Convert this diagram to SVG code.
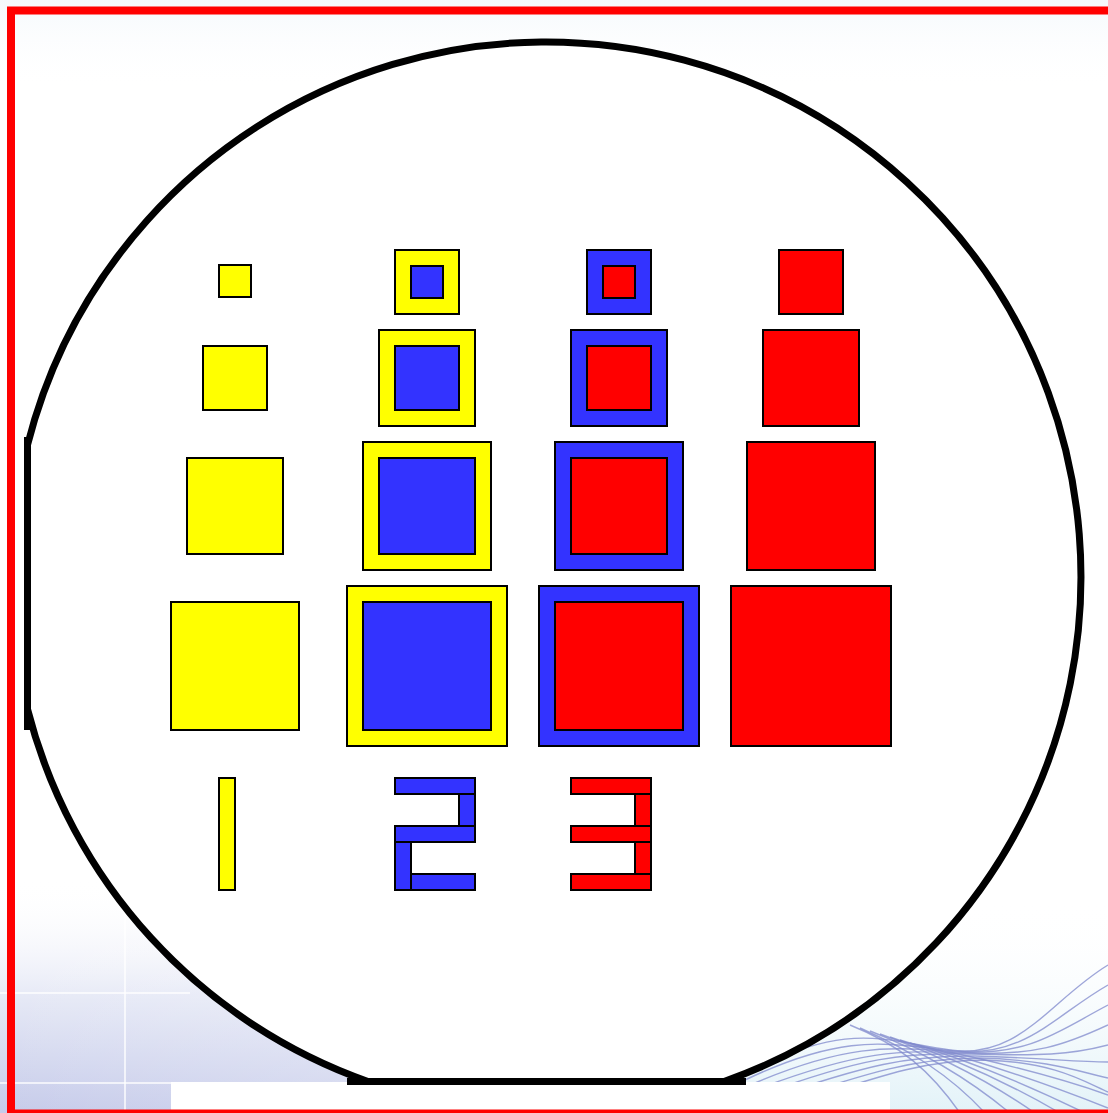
<svg xmlns="http://www.w3.org/2000/svg" width="1108" height="1113" viewBox="0 0 1108 1113">
  <style>
    .sq { stroke: #000; stroke-width: 2; }
    .y { fill: #FFFF00; }
    .b { fill: #3333FF; }
    .r { fill: #FF0000; }
    .wave { fill: none; stroke: #7f88cc; stroke-width: 1.4; stroke-opacity: 0.75; }
    .grid { stroke: #ffffff; stroke-width: 2; stroke-opacity: 0.7; }
  </style>
  <defs>
    <linearGradient id="lav" x1="0" y1="0" x2="0" y2="1">
      <stop offset="0" stop-color="#ffffff" stop-opacity="0"/>
      <stop offset="0.5" stop-color="#e6e9f6"/>
      <stop offset="1" stop-color="#c6cbea"/>
    </linearGradient>
    <linearGradient id="lavh" x1="0" y1="0" x2="1" y2="0">
      <stop offset="0" stop-color="#ffffff" stop-opacity="0"/>
      <stop offset="0.6" stop-color="#ffffff" stop-opacity="0.2"/>
      <stop offset="1" stop-color="#ffffff" stop-opacity="1"/>
    </linearGradient>
    <linearGradient id="cyan" x1="0" y1="0" x2="0" y2="1">
      <stop offset="0" stop-color="#ffffff" stop-opacity="0"/>
      <stop offset="1" stop-color="#e2f2f8"/>
    </linearGradient>
    <linearGradient id="topg" x1="0" y1="0" x2="0" y2="1">
      <stop offset="0" stop-color="#f5f9fc"/>
      <stop offset="1" stop-color="#ffffff" stop-opacity="0"/>
    </linearGradient>
  </defs>

  <g id="background">
    <rect x="0" y="0" width="1108" height="1113" fill="#ffffff"/>
    <rect x="0" y="0" width="1108" height="90" fill="url(#topg)"/>
    <rect x="0" y="880" width="560" height="233" fill="url(#lav)"/>
    <rect x="0" y="880" width="560" height="233" fill="url(#lavh)"/>
    <line class="grid" x1="125" y1="900" x2="125" y2="1113"/>
    <line class="grid" x1="0" y1="993" x2="190" y2="993"/>
    <line class="grid" x1="0" y1="1083" x2="190" y2="1083"/>
    <rect x="700" y="900" width="408" height="213" fill="url(#cyan)"/>
    <g id="waves">
      <path class="wave" d="M 740 1075 C 850 1020, 880 1040, 950 1050 C 1020 1060, 1050 1000, 1108 965"/>
      <path class="wave" d="M 745 1080 C 850 1030, 890 1045, 955 1051 C 1025 1058, 1055 1015, 1108 985"/>
      <path class="wave" d="M 750 1085 C 855 1040, 895 1048, 960 1052 C 1030 1056, 1060 1030, 1108 1005"/>
      <path class="wave" d="M 755 1090 C 860 1050, 900 1050, 965 1053 C 1035 1056, 1065 1045, 1108 1025"/>
      <path class="wave" d="M 760 1095 C 860 1058, 905 1052, 970 1054 C 1040 1056, 1070 1055, 1108 1045"/>
      <path class="wave" d="M 765 1100 C 865 1065, 910 1055, 975 1056 C 1045 1058, 1075 1062, 1108 1062"/>
      <path class="wave" d="M 770 1105 C 870 1072, 915 1058, 980 1058 C 1050 1060, 1080 1072, 1108 1078"/>
      <path class="wave" d="M 775 1110 C 875 1078, 920 1060, 985 1060 C 1055 1062, 1085 1082, 1108 1092"/>
      <path class="wave" d="M 850 1025 C 900 1045, 930 1070, 960 1113"/>
      <path class="wave" d="M 860 1028 C 910 1050, 950 1075, 985 1113"/>
      <path class="wave" d="M 870 1031 C 925 1052, 970 1080, 1010 1113"/>
      <path class="wave" d="M 880 1034 C 940 1055, 990 1082, 1035 1113"/>
      <path class="wave" d="M 890 1037 C 955 1058, 1010 1084, 1060 1113"/>
      <path class="wave" d="M 900 1040 C 970 1060, 1030 1086, 1085 1113"/>
      <path class="wave" d="M 910 1043 C 985 1062, 1050 1085, 1108 1108"/>
      <path class="wave" d="M 920 1046 C 1000 1062, 1060 1078, 1108 1095"/>
    </g>
    <rect x="171" y="1082" width="719" height="28" fill="#ffffff"/>
  </g>

  <rect id="frame" x="11" y="10.5" width="1120" height="1103" fill="none" stroke="#FF0000" stroke-width="8"/>

  <g id="wafer">
    <path d="M 27.5 445 A 535 535 0 1 1 724 1081.5 L 368 1081.5 A 535 535 0 0 1 27.5 709 Z" fill="#ffffff" stroke="#000" stroke-width="7"/>
    <rect x="24" y="437" width="7" height="293" fill="#000"/>
    <rect x="347" y="1078" width="399" height="7" fill="#000"/>
  </g>

  <g id="col1">
    <rect id="y1" class="sq y" x="219" y="265" width="32" height="32"/>
    <rect id="y2" class="sq y" x="203" y="346" width="64" height="64"/>
    <rect id="y3" class="sq y" x="187" y="458" width="96" height="96"/>
    <rect id="y4" class="sq y" x="171" y="602" width="128" height="128"/>
  </g>
  <g id="col2">
    <g id="yb1"><rect class="sq y" x="395" y="250" width="64" height="64"/><rect class="sq b" x="411" y="266" width="32" height="32"/></g>
    <g id="yb2"><rect class="sq y" x="379" y="330" width="96" height="96"/><rect class="sq b" x="395" y="346" width="64" height="64"/></g>
    <g id="yb3"><rect class="sq y" x="363" y="442" width="128" height="128"/><rect class="sq b" x="379" y="458" width="96" height="96"/></g>
    <g id="yb4"><rect class="sq y" x="347" y="586" width="160" height="160"/><rect class="sq b" x="363" y="602" width="128" height="128"/></g>
  </g>
  <g id="col3">
    <g id="br1"><rect class="sq b" x="587" y="250" width="64" height="64"/><rect class="sq r" x="603" y="266" width="32" height="32"/></g>
    <g id="br2"><rect class="sq b" x="571" y="330" width="96" height="96"/><rect class="sq r" x="587" y="346" width="64" height="64"/></g>
    <g id="br3"><rect class="sq b" x="555" y="442" width="128" height="128"/><rect class="sq r" x="571" y="458" width="96" height="96"/></g>
    <g id="br4"><rect class="sq b" x="539" y="586" width="160" height="160"/><rect class="sq r" x="555" y="602" width="128" height="128"/></g>
  </g>
  <g id="col4">
    <rect id="r1" class="sq r" x="779" y="250" width="64" height="64"/>
    <rect id="r2" class="sq r" x="763" y="330" width="96" height="96"/>
    <rect id="r3" class="sq r" x="747" y="442" width="128" height="128"/>
    <rect id="r4" class="sq r" x="731" y="586" width="160" height="160"/>
  </g>

  <g id="numeral1">
    <rect class="sq y" x="219" y="778" width="16" height="112"/>
  </g>
  <g id="numeral2">
    <rect class="sq b" x="395" y="778" width="80" height="16"/>
    <rect class="sq b" x="459" y="794" width="16" height="32"/>
    <rect class="sq b" x="395" y="826" width="80" height="16"/>
    <rect class="sq b" x="395" y="842" width="16" height="48"/>
    <rect class="sq b" x="411" y="874" width="64" height="16"/>
  </g>
  <g id="numeral3">
    <rect class="sq r" x="635" y="794" width="16" height="32"/>
    <rect class="sq r" x="635" y="842" width="16" height="48"/>
    <rect class="sq r" x="571" y="778" width="80" height="16"/>
    <rect class="sq r" x="571" y="826" width="80" height="16"/>
    <rect class="sq r" x="571" y="874" width="80" height="16"/>
  </g>
</svg>
